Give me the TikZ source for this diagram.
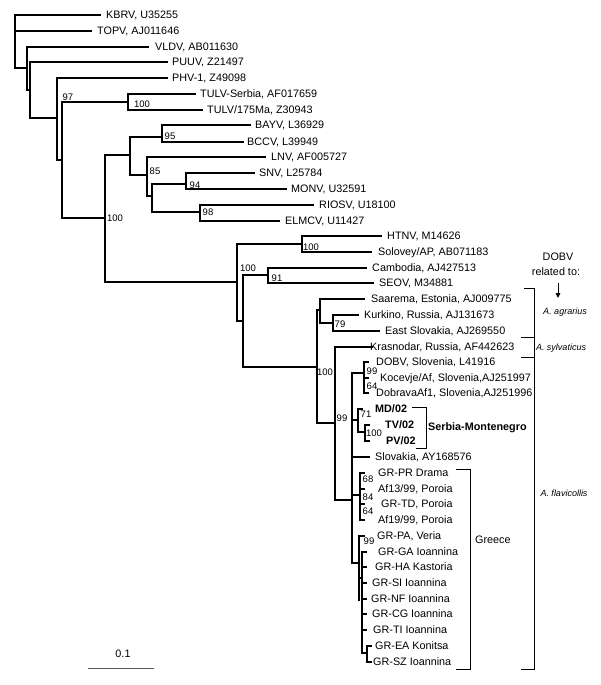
\documentclass[tikz,border=0pt]{standalone}
\usepackage{fontspec}
\setmainfont{Liberation Sans}
\usetikzlibrary{arrows.meta}
\tikzset{
 br/.style={line width=1.7pt, line cap=rect},
 lab/.style={anchor=west, inner sep=0pt, text height=7.8pt, text depth=0pt, font=\fontsize{10.8}{12}\selectfont},
 sup/.style={inner sep=0pt, text height=6.8pt, text depth=0pt, font=\fontsize{9.5}{11}\selectfont},
 brk/.style={line width=0.9pt},
 spc/.style={inner sep=0pt, font=\fontsize{9}{10}\selectfont\itshape},
 note/.style={inner sep=0pt, font=\fontsize{10.8}{12}\selectfont},
}
\newcommand\phtip[6]{%
 \coordinate (#1-s) at (#2,#4);
 \coordinate (#1-e) at (#3,#4);
 \node[lab] (#1) at (#5,#4) {#6};
 \draw[br] (#1-s) -- (#1-e);}
\newcommand\phnode[6]{%
 \coordinate (#1) at (#2,#6);
 \coordinate (#1-t) at (#2,#3);
 \coordinate (#1-b) at (#2,#4);
 \coordinate (#1-p) at (#5,#6);
 \draw[br] (#1-t) -- (#1-b);
 \draw[br] (#1-p) -- (#1);}
\begin{document}
\begin{tikzpicture}[x=1pt,y=-1pt]
\useasboundingbox (0,0) rectangle (600,685);
% root
\coordinate (rt) at (15,15);
\coordinate (rb) at (15,68);
\draw[br] (rt) -- (rb);
% internal nodes
\phnode{nB}{27}{47}{90}{15}{68}
\phnode{nC}{30}{62}{118}{27}{90}
\phnode{nD}{57}{78}{160}{30}{118}
\phnode{nE}{62}{102}{218}{57}{160}
\phnode{nF}{128}{94}{110}{62}{102}
\phnode{nH}{105}{155}{282}{62}{218}
\phnode{nI}{130}{137}{175}{105}{155}
\phnode{nK}{162}{125}{142}{130}{137}
\phnode{nL}{147}{157}{196}{130}{175}
\phnode{nM}{152}{184}{212}{147}{196}
\phnode{nO}{186}{173}{189}{152}{184}
\phnode{nN}{200}{205}{221}{152}{212}
\phnode{nJ}{237}{244}{321}{105}{282}
\phnode{nP}{302}{236}{252}{237}{244}
\phnode{nR}{243}{275}{367}{237}{321}
\phnode{nQ}{268}{268}{283}{243}{275}
\phnode{nS}{317}{310}{423}{243}{367}
\phnode{nV}{320}{299}{323}{317}{310}
\phnode{nW}{333}{315}{331}{320}{323}
\phnode{nT}{335}{347}{500}{317}{423}
\phnode{nU}{352}{373}{563}{335}{500}
\phnode{nX}{364}{362}{393}{352}{373}
\phnode{nY}{358}{409}{432}{352}{420}
\phnode{nYY}{365}{425}{441}{358}{432}
\phnode{nGa}{360}{473}{520}{352}{495}
\phnode{nZ}{359}{536}{600}{352}{563}
\phnode{nCb}{362}{552}{653}{359}{578}
\phnode{nEA}{367}{646}{662}{362}{653}
% tips
\phtip{kbrv}{15}{100}{15}{106}{KBRV, U35255}
\phtip{topv}{15}{91}{31}{97}{TOPV, AJ011646}
\phtip{vldv}{27}{148}{47}{155}{VLDV, AB011630}
\phtip{puuv}{30}{167}{62}{172}{PUUV, Z21497}
\phtip{phv}{57}{167}{78}{172}{PHV-1, Z49098}
\phtip{tulvs}{128}{195}{94}{200}{TULV-Serbia, AF017659}
\phtip{tulvm}{128}{202}{110}{207}{TULV/175Ma, Z30943}
\phtip{bayv}{162}{250}{125}{255}{BAYV, L36929}
\phtip{bccv}{162}{243}{142}{247}{BCCV, L39949}
\phtip{lnv}{147}{265}{157}{271}{LNV, AF005727}
\phtip{snv}{186}{254}{173}{259}{SNV, L25784}
\phtip{monv}{186}{286}{189}{291}{MONV, U32591}
\phtip{riosv}{200}{313}{205}{319}{RIOSV, U18100}
\phtip{elmcv}{200}{279}{221}{285}{ELMCV, U11427}
\phtip{htnv}{302}{381}{236}{387}{HTNV, M14626}
\phtip{solo}{302}{371}{252}{378}{Solovey/AP, AB071183}
\phtip{camb}{268}{366}{268}{372}{Cambodia, AJ427513}
\phtip{seov}{268}{373}{283}{379}{SEOV, M34881}
\phtip{saar}{320}{364}{299}{371}{Saarema, Estonia, AJ009775}
\phtip{kurk}{333}{358}{315}{364}{Kurkino, Russia, AJ131673}
\phtip{eslo}{333}{379}{331}{385}{East Slovakia, AJ269550}
\phtip{kras}{335}{372}{347}{370}{Krasnodar, Russia, AF442623}
\phtip{dobv}{364}{368}{362}{376}{DOBV, Slovenia, L41916}
\phtip{koce}{364}{368}{378}{380}{Kocevje/Af, Slovenia,AJ251997}
\phtip{dobr}{364}{368}{393}{376}{DobravaAf1, Slovenia,AJ251996}
\phtip{md}{358}{362}{409}{375}{\textbf{MD/02}}
\phtip{tv}{365}{369}{425}{385}{\textbf{TV/02}}
\phtip{pv}{365}{369}{441}{386}{\textbf{PV/02}}
\phtip{slov}{352}{369}{457}{375}{Slovakia, AY168576}
\phtip{grpr}{360}{364}{473}{378}{GR-PR Drama}
\phtip{afa}{360}{364}{489}{378}{Af13/99, Poroia}
\phtip{grtd}{360}{364}{504}{381}{GR-TD, Poroia}
\phtip{afb}{360}{364}{520}{378}{Af19/99, Poroia}
\phtip{grpa}{359}{364}{536}{377}{GR-PA, Veria}
\phtip{grga}{362}{366}{552}{378}{GR-GA Ioannina}
\phtip{grha}{362}{366}{567}{375}{GR-HA Kastoria}
\phtip{grsi}{362}{366}{583}{372}{GR-SI Ioannina}
\phtip{grnf}{362}{366}{599}{371}{GR-NF Ioannina}
\phtip{grcg}{362}{366}{614}{372}{GR-CG Ioannina}
\phtip{grti}{362}{366}{630}{373}{GR-TI Ioannina}
\phtip{grea}{367}{371}{646}{375}{GR-EA Konitsa}
\phtip{grsz}{367}{371}{662}{373}{GR-SZ Ioannina}
% support values
\node[sup] (s1) at (68,97) {97};
\node[sup] (s2) at (142,104) {100};
\node[sup] (s3) at (170,136) {95};
\node[sup] (s4) at (155,171) {85};
\node[sup] (s5) at (195,185) {94};
\node[sup] (s6) at (208,212) {98};
\node[sup] (s7) at (115,218) {100};
\node[sup] (s8) at (311,247) {100};
\node[sup] (s9) at (248,268) {100};
\node[sup] (s10) at (277,278) {91};
\node[sup] (s11) at (340,324) {79};
\node[sup] (s12) at (325,372) {100};
\node[sup] (s13) at (342,418) {99};
\node[sup] (s14) at (372,371) {99};
\node[sup] (s15) at (372,386) {64};
\node[sup] (s16) at (366,414) {71};
\node[sup] (s17) at (374,433) {100};
\node[sup] (s18) at (368,479) {68};
\node[sup] (s19) at (368,497) {84};
\node[sup] (s20) at (368,511) {64};
\node[sup] (s21) at (369,541) {99};
% Serbia-Montenegro bracket
\coordinate (sm1) at (412,407); \coordinate (sm2) at (426,407);
\coordinate (sm3) at (426,448); \coordinate (sm4) at (416,448);
\draw[brk] (sm1) -- (sm2) -- (sm3) -- (sm4);
\node[lab] (smlab) at (428,427) {\textbf{Serbia-Montenegro}};
% Greece bracket
\coordinate (gr1) at (456,469); \coordinate (gr2) at (470,469);
\coordinate (gr3) at (470,669); \coordinate (gr4) at (456,669);
\draw[brk] (gr1) -- (gr2) -- (gr3) -- (gr4);
\node[lab] (grlab) at (475,540) {Greece};
% big bracket
\coordinate (bb1) at (524,288); \coordinate (bb2) at (534,288);
\coordinate (bb3) at (534,669); \coordinate (bb4) at (521,669);
\draw[brk] (bb1) -- (bb2) -- (bb3) -- (bb4);
\coordinate (tk1) at (521,337); \coordinate (tk1e) at (534,337);
\coordinate (tk2) at (521,357); \coordinate (tk2e) at (534,357);
\draw[brk] (tk1) -- (tk1e);
\draw[brk] (tk2) -- (tk2e);
\node[spc] (agr) at (565,312) {A. agrarius};
\node[spc] (syl) at (561,348) {A. sylvaticus};
\node[spc] (fla) at (564,493) {A. flavicollis};
% DOBV related to
\node[note] (dh) at (558,257) {DOBV};
\node[note] (rel) at (556,272) {related to:};
\coordinate (ar1) at (558,283); \coordinate (ar2) at (558,298);
\draw[brk,-{Triangle[length=5pt,width=4.5pt]}] (ar1) -- (ar2);
% scale bar
\coordinate (sb1) at (88,668); \coordinate (sb2) at (154,668);
\draw[gray!70!black, line width=0.8pt] (sb1) -- (sb2);
\node[note] (sbl) at (123,654) {0.1};
\end{tikzpicture}
\end{document}
